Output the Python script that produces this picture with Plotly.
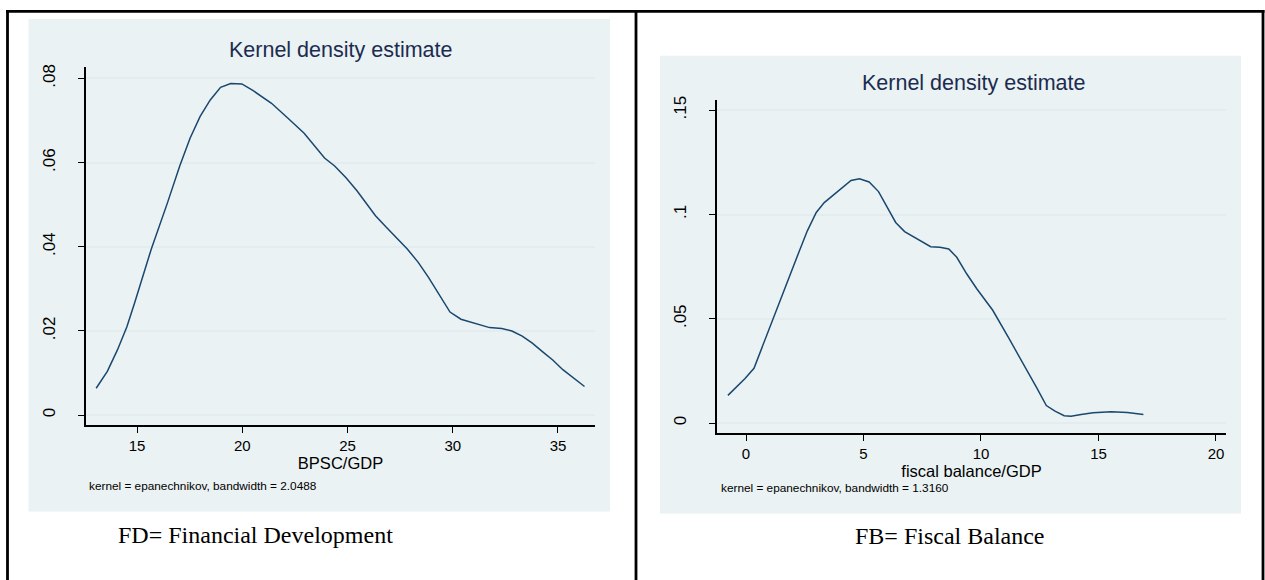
import plotly.graph_objects as go

W, H = 1265, 580

# ---------------- data ----------------
fd_x = [13.06, 13.59, 14.07, 14.52, 14.90, 15.19, 15.68, 16.45, 17.03, 17.52, 18.00, 18.48,
        18.97, 19.45, 19.98, 20.52, 21.39, 22.16, 22.94, 23.91, 24.39, 24.93, 25.45, 26.33,
        26.81, 27.84, 28.36, 28.84, 29.42, 29.87, 30.39, 31.07, 31.75, 32.33, 32.81, 33.30,
        33.78, 34.26, 34.75, 35.23, 35.77, 36.26]
fd_y = [0.0064, 0.0104, 0.0155, 0.0210, 0.0269, 0.0316, 0.0395, 0.0505, 0.0592, 0.0658, 0.0710, 0.0749,
        0.0779, 0.0788, 0.0787, 0.0771, 0.0741, 0.0706, 0.0670, 0.0611, 0.0592, 0.0564, 0.0533, 0.0474,
        0.0448, 0.0395, 0.0363, 0.0328, 0.0281, 0.0245, 0.0228, 0.0218, 0.0208, 0.0206, 0.0200, 0.0188,
        0.0171, 0.0151, 0.0131, 0.0108, 0.0088, 0.0068]

fb_x = [-0.77, -0.05, 0.34, 0.77, 1.20, 1.79, 2.22, 2.61, 2.99, 3.33, 3.67, 4.10, 4.47, 4.83,
        5.24, 5.64, 5.98, 6.37, 6.75, 7.12, 7.46, 7.86, 8.25, 8.63, 8.97, 9.39, 9.82, 10.50,
        11.19, 11.96, 12.38, 12.78, 13.15, 13.54, 13.83, 14.26, 14.77, 15.54, 16.23, 16.91]
fb_y = [0.0133, 0.0213, 0.0263, 0.0390, 0.0518, 0.0692, 0.0811, 0.0922, 0.1010, 0.1057, 0.1089, 0.1129, 0.1163, 0.1171,
        0.1156, 0.1110, 0.1041, 0.0962, 0.0918, 0.0894, 0.0875, 0.0846, 0.0843, 0.0835, 0.0795, 0.0716, 0.0644, 0.0541,
        0.0406, 0.0256, 0.0168, 0.0084, 0.0057, 0.0035, 0.0033, 0.0041, 0.0049, 0.0054, 0.0051, 0.0041]

fd_xticks = [15, 20, 25, 30, 35]
fd_yticks = [0, 0.02, 0.04, 0.06, 0.08]
fd_ytext = ["0", ".02", ".04", ".06", ".08"]
fb_xticks = [0, 5, 10, 15, 20]
fb_yticks = [0, 0.05, 0.10, 0.15]
fb_ytext = ["0", ".05", ".1", ".15"]

title_text = "Kernel density estimate"
fd_xtitle = "BPSC/GDP"
fb_xtitle = "fiscal balance/GDP"
fd_note = "kernel = epanechnikov, bandwidth = 2.0488"
fb_note = "kernel = epanechnikov, bandwidth = 1.3160"
fd_caption = "FD= Financial Development"
fb_caption = "FB= Fiscal Balance"

# ---------------- style ----------------
SANS = "Liberation Sans, Arial, sans-serif"
SERIF = "Liberation Serif, Times New Roman, serif"
LINE = "#1A476F"
TITLE_C = "#1C2C50"
GRID = "#E3ECEF"
REGION = "#EAF2F3"


def px(x):
    return x / W


def py(y):
    return 1 - y / H


fig = go.Figure()
fig.add_trace(go.Scatter(x=fd_x, y=fd_y, mode="lines", line=dict(color=LINE, width=1.5),
                         xaxis="x", yaxis="y", showlegend=False, hoverinfo="skip"))
fig.add_trace(go.Scatter(x=fb_x, y=fb_y, mode="lines", line=dict(color=LINE, width=1.5),
                         xaxis="x2", yaxis="y2", showlegend=False, hoverinfo="skip"))

axis_common = dict(showline=True, linecolor="black", linewidth=1.5, ticks="outside", ticklen=6,
                   tickwidth=1, tickcolor="black", zeroline=False, mirror=False, fixedrange=True)

xfont = dict(family=SANS, size=15, color="black")
yfont = dict(family=SANS, size=17, color="black")
tfont = dict(family=SANS, size=16.5, color="black")

fig.update_layout(
    width=W, height=H, margin=dict(l=0, r=0, t=0, b=0),
    paper_bgcolor="white", plot_bgcolor="white", showlegend=False,
    xaxis=dict(domain=[px(86), px(595)], range=[12.577, 36.758], tickvals=fd_xticks,
               showgrid=False, tickfont=xfont, anchor="y",
               title=dict(text=fd_xtitle, font=tfont, standoff=1), **axis_common),
    yaxis=dict(domain=[py(424), py(63)], range=[-0.00236, 0.08283], tickvals=fd_yticks, ticktext=fd_ytext,
               tickangle=-90, showgrid=True, gridcolor=GRID, gridwidth=1.5, tickfont=yfont, anchor="x",
               ticklabelstandoff=16, **axis_common),
    xaxis2=dict(domain=[px(717), px(1226)], range=[-1.234, 20.426], tickvals=fb_xticks,
                showgrid=False, tickfont=xfont, anchor="y2",
                title=dict(text=fb_xtitle, font=tfont, standoff=0), **axis_common),
    yaxis2=dict(domain=[py(432), py(97)], range=[-0.00476, 0.15476], tickvals=fb_yticks, ticktext=fb_ytext,
                tickangle=-90, showgrid=True, gridcolor=GRID, gridwidth=1.5, tickfont=yfont, anchor="x2",
                ticklabelstandoff=16, **axis_common),
)

shapes = []
# graph regions (light blue-gray)
shapes.append(dict(type="rect", xref="paper", yref="paper", x0=px(28.5), x1=px(610), y0=py(511), y1=py(15),
                   fillcolor=REGION, line=dict(width=0), layer="below"))
shapes.append(dict(type="rect", xref="paper", yref="paper", x0=px(660), x1=px(1241), y0=py(513), y1=py(52),
                   fillcolor=REGION, line=dict(width=0), layer="below"))
# table borders
bw = 2.8
shapes.append(dict(type="line", xref="paper", yref="paper", x0=px(6), x1=px(1264.5), y0=py(7.5), y1=py(7.5),
                   line=dict(color="black", width=bw)))
for xb in (7.5, 636, 1263):
    shapes.append(dict(type="line", xref="paper", yref="paper", x0=px(xb), x1=px(xb), y0=py(6), y1=py(585),
                       line=dict(color="black", width=bw)))
fig.update_layout(shapes=shapes)

ann = []
ann.append(dict(text=title_text, x=px(340), y=py(46.5), xref="paper", yref="paper", showarrow=False,
                xanchor="center", yanchor="middle", font=dict(family=SANS, size=21.5, color=TITLE_C)))
ann.append(dict(text=title_text, x=px(973), y=py(80), xref="paper", yref="paper", showarrow=False,
                xanchor="center", yanchor="middle", font=dict(family=SANS, size=21.5, color=TITLE_C)))
ann.append(dict(text=fd_note, x=px(87), y=py(485), xref="paper", yref="paper", showarrow=False,
                xanchor="left", yanchor="middle", font=dict(family=SANS, size=11.8, color="black")))
ann.append(dict(text=fb_note, x=px(719), y=py(487), xref="paper", yref="paper", showarrow=False,
                xanchor="left", yanchor="middle", font=dict(family=SANS, size=11.8, color="black")))
ann.append(dict(text=fd_caption, x=px(255), y=py(535), xref="paper", yref="paper", showarrow=False,
                xanchor="center", yanchor="middle", font=dict(family=SERIF, size=24, color="black")))
ann.append(dict(text=fb_caption, x=px(949.5), y=py(536), xref="paper", yref="paper", showarrow=False,
                xanchor="center", yanchor="middle", font=dict(family=SERIF, size=24, color="black")))
fig.update_layout(annotations=ann)

fig.write_html("out.html")
